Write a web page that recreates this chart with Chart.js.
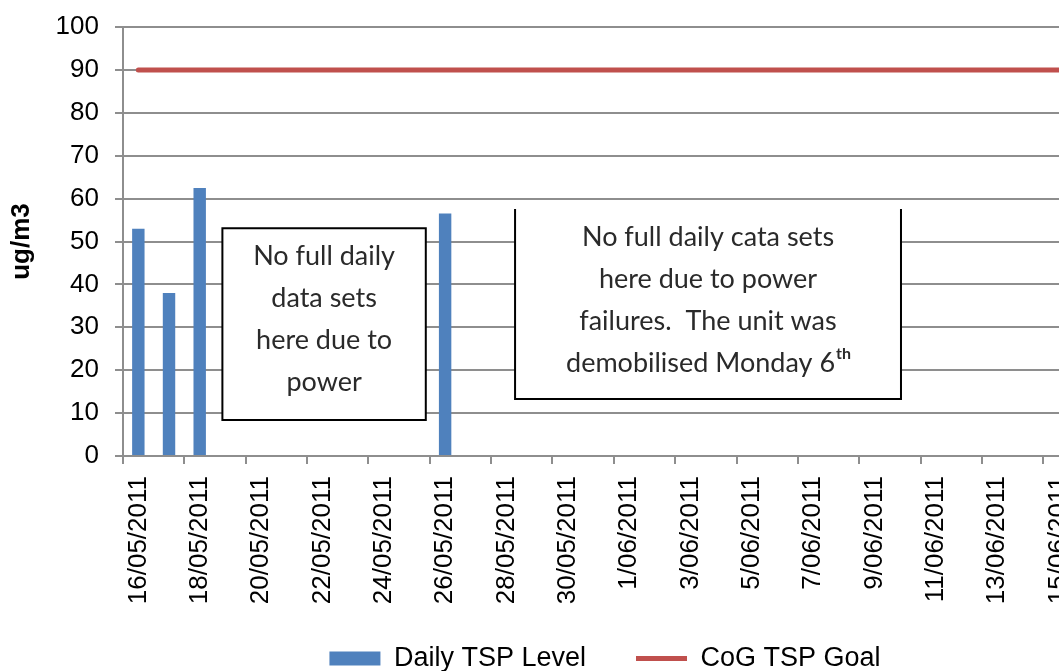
<!DOCTYPE html>
<html>
<head>
<meta charset="utf-8">
<script src="https://cdn.jsdelivr.net/npm/chart.js@4.4.1/dist/chart.umd.min.js"></script>
<style>
html, body { margin: 0; padding: 0; background: #fff; overflow: hidden; }
#wrap { width: 1102px; height: 671px; }
</style>
</head>
<body>
<div id="wrap"><canvas id="myChart" width="1102" height="671"></canvas></div>
<script>
// categorias (dias)
var dias = ['16/05/2011', '17/05/2011', '18/05/2011', '19/05/2011', '20/05/2011', '21/05/2011',
	'22/05/2011', '23/05/2011', '24/05/2011', '25/05/2011', '26/05/2011', '27/05/2011',
	'28/05/2011', '29/05/2011', '30/05/2011', '31/05/2011', '1/06/2011', '2/06/2011',
	'3/06/2011', '4/06/2011', '5/06/2011', '6/06/2011', '7/06/2011', '8/06/2011',
	'9/06/2011', '10/06/2011', '11/06/2011', '12/06/2011', '13/06/2011', '14/06/2011', '15/06/2011'];

// Daily TSP Level
var nivelTSP = [53, 38, 62.5, null, null, null, null, null, null, null, 56.5, null,
	null, null, null, null, null, null, null, null, null, null, null, null,
	null, null, null, null, null, null, null];

// CoG TSP Goal
var metaTSP = [90, 90, 90, 90, 90, 90, 90, 90, 90, 90, 90, 90, 90, 90, 90, 90,
	90, 90, 90, 90, 90, 90, 90, 90, 90, 90, 90, 90, 90, 90, 90];

var ticksY = [0, 10, 20, 30, 40, 50, 60, 70, 80, 90, 100];

// notas dentro do grafico
var notas = [
	{ xMin: 2.74, xMax: 9.37, yMin: 8.4, yMax: 53.1, topo: true,
		linhas: ['No full daily', 'data sets', 'here due to', 'power'], sup: null },
	{ xMin: 12.28, xMax: 24.86, yMin: 13.3, yMax: 57.6, topo: false,
		linhas: ['No full daily cata sets', 'here due to power', 'failures.  The unit was', 'demobilised Monday 6'], sup: 'th' }
];

var fonte = '"Liberation Sans", Arial, sans-serif';
var cinza = '#8e8e8e';

var pluginNotas = {
	id: 'notas',
	afterDatasetsDraw: function(chart){
		var ctx = chart.ctx;
		var sx = chart.scales.x, sy = chart.scales.y;
		notas.forEach(function(n){
			var l = sx.getPixelForValue(n.xMin), r = sx.getPixelForValue(n.xMax);
			var t = sy.getPixelForValue(n.yMax), b = sy.getPixelForValue(n.yMin);
			ctx.save();
			ctx.fillStyle = '#fff';
			ctx.fillRect(l, t, r - l, b - t);
			ctx.strokeStyle = '#000';
			ctx.lineWidth = 2;
			ctx.beginPath();
			if (n.topo) {
				ctx.rect(l, t, r - l, b - t);
			} else {
				ctx.moveTo(l, t); ctx.lineTo(l, b); ctx.lineTo(r, b); ctx.lineTo(r, t);
			}
			ctx.stroke();
			ctx.fillStyle = '#2a2a2a';
			ctx.textBaseline = 'middle';
			var cx = (l + r) / 2;
			n.linhas.forEach(function(txt, i){
				var yy = t + 28 + i * 42;
				if (n.sup && i === n.linhas.length - 1) {
					ctx.font = '27px Lato';
					var w1 = ctx.measureText(txt).width;
					ctx.font = 'bold 16px Lato';
					var w2 = ctx.measureText(n.sup).width;
					var x0 = cx - (w1 + w2) / 2;
					ctx.textAlign = 'left';
					ctx.font = '27px Lato';
					ctx.fillText(txt, x0, yy);
					ctx.font = 'bold 16px Lato';
					ctx.fillText(n.sup, x0 + w1 + 1, yy - 9);
				} else {
					ctx.textAlign = 'center';
					ctx.font = '27px Lato';
					ctx.fillText(txt, cx, yy);
				}
			});
			ctx.restore();
		});
	}
};

// empurra a legenda para a posicao do original
var ajusteLegenda = {
	id: 'ajusteLegenda',
	afterLayout: function(chart){
		var lg = chart.legend;
		lg.left += 56; lg.right += 56;
		lg.top -= 21;
	}
};

function renderChart(){
	var ctx = document.getElementById('myChart').getContext('2d');
	var myChart = new Chart(ctx, {
		type: 'bar',
		data: {
			labels: dias,
			datasets: [{
				type: 'bar',
				label: 'Daily TSP Level',
				data: nivelTSP,
				backgroundColor: '#4F81BD',
				borderWidth: 0,
				barPercentage: 0.45,
				categoryPercentage: 0.9
			}, {
				type: 'line',
				label: 'CoG TSP Goal',
				data: metaTSP,
				borderColor: '#C0504D',
				backgroundColor: '#C0504D',
				borderWidth: 5,
				borderCapStyle: 'round',
				pointRadius: 0,
				fill: false
			}]
		},
		options: {
			responsive: false,
			animation: false,
			layout: { padding: { left: 4, top: 27, right: 8, bottom: 0 } },
			plugins: {
				tooltip: { enabled: false },
				legend: {
					position: 'bottom',
					maxHeight: 55,
					labels: {
						color: '#000',
						font: { family: fonte, size: 27 },
						usePointStyle: true,
						pointStyleWidth: 51,
						boxHeight: 14,
						padding: 50,
						generateLabels: function(chart){
							var itens = Chart.defaults.plugins.legend.labels.generateLabels(chart);
							itens.forEach(function(it){
								if (it.datasetIndex === 0) {
									it.pointStyle = 'rect';
									it.lineWidth = 0;
									it.fillStyle = '#4F81BD';
								} else {
									it.pointStyle = 'line';
									it.lineWidth = 5;
									it.strokeStyle = '#C0504D';
								}
							});
							itens.sort(function(a, b){ return a.datasetIndex - b.datasetIndex; });
							return itens;
						}
					}
				}
			},
			scales: {
				x: {
					offset: true,
					grid: {
						offset: true,
						drawOnChartArea: false,
						drawTicks: true,
						tickLength: 8,
						lineWidth: 2,
						color: function(c){ return c.index % 2 === 0 ? cinza : 'rgba(0,0,0,0)'; }
					},
					border: { display: true, color: cinza, width: 2 },
					ticks: {
						autoSkip: false,
						minRotation: 90,
						maxRotation: 90,
						padding: 12,
						color: '#000',
						font: { family: fonte, size: 26 },
						callback: function(v, i){ return i % 2 === 0 ? dias[i] : ''; }
					},
					afterFit: function(scale){ scale.height = 160; }
				},
				y: {
					min: 0,
					max: 100,
					afterBuildTicks: function(scale){
						scale.ticks = ticksY.map(function(v){ return { value: v }; });
					},
					grid: { color: cinza, lineWidth: 2, tickLength: 8 },
					border: { display: true, color: cinza, width: 2 },
					ticks: {
						padding: 16,
						color: '#000',
						font: { family: fonte, size: 26 }
					},
					title: {
						display: true,
						text: 'ug/m3',
						color: '#000',
						padding: { top: 2, bottom: 0 },
						font: { family: fonte, size: 26, weight: 'bold' }
					},
					afterFit: function(scale){
						scale.width = 119;
						scale.paddingTop = 0;
						scale.paddingBottom = 0;
					}
				}
			}
		},
		plugins: [pluginNotas, ajusteLegenda]
	});
}

renderChart();
</script>
</body>
</html>
